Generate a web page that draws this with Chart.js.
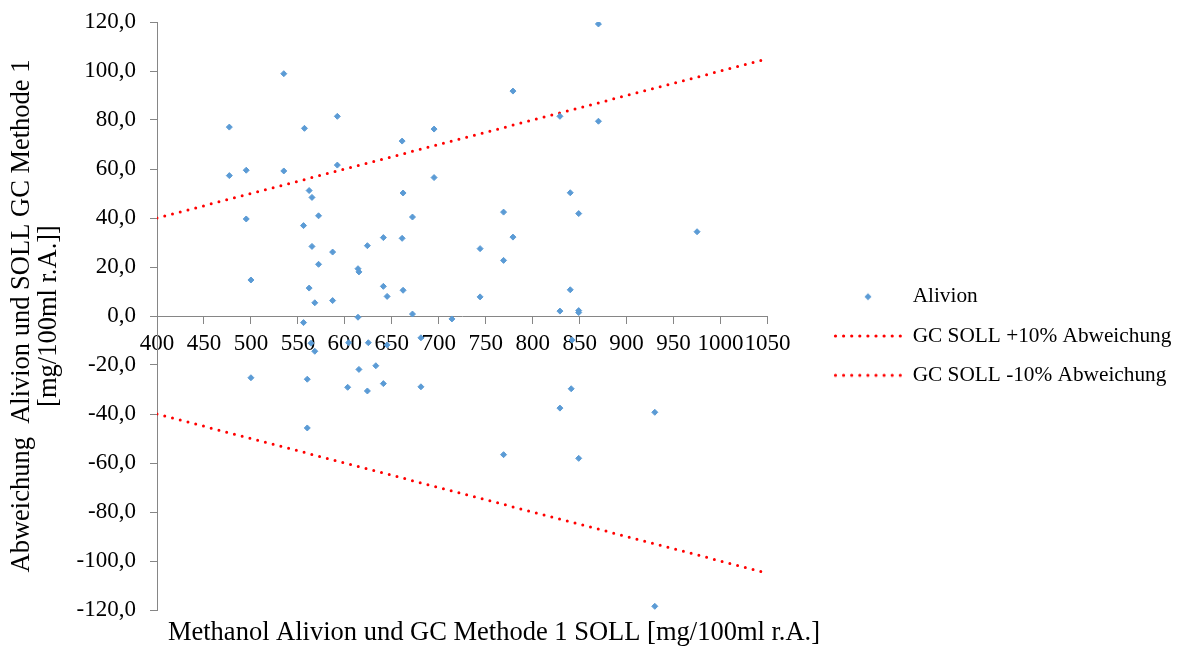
<!DOCTYPE html>
<html>
<head>
<meta charset="utf-8">
<script src="https://cdn.jsdelivr.net/npm/chart.js@4.4.1/dist/chart.umd.min.js"></script>
<style>
  html, body { margin: 0; background: #fff; }
</style>
</head>
<body>
<canvas id="chart" width="1180" height="650"></canvas>
<script>
// Alivion points: x = GC SOLL, y = Abweichung
const alivionX = [535, 477, 557, 592, 695, 661, 477, 495, 535, 592, 695, 562, 565, 662, 672, 572, 495, 556, 641, 661,
  565, 624, 587, 572, 614, 615, 500, 641, 562, 662, 645, 568, 587, 672, 614, 714, 556,
  870, 779, 829, 870, 840, 769, 849, 975, 779, 744, 769, 744, 840, 829, 849, 849,
  564, 568, 604, 625, 645, 681, 633, 615, 500, 560, 641, 603, 681, 624, 560,
  842, 841, 829, 930, 769, 849, 930];
const alivionY = [98.9, 77.1, 76.6, 81.5, 76.3, 71.4, 57.3, 59.5, 59.2, 61.6, 56.5, 51.2, 48.4, 50.2, 40.4, 40.9, 39.6, 36.9, 32.0, 31.7,
  28.4, 28.7, 26.1, 21.1, 19.3, 18.0, 14.7, 12.1, 11.4, 10.5, 8.0, 5.4, 6.3, 0.8, -0.5, -1.2, -2.7,
  119.2, 91.8, 81.5, 79.5, 50.3, 42.4, 41.8, 34.4, 32.2, 27.5, 22.7, 7.8, 10.7, 2.0, 2.2, 1.4,
  -11.1, -14.4, -10.9, -10.9, -11.8, -8.9, -20.3, -21.8, -25.2, -25.8, -27.6, -29.1, -28.9, -30.6, -45.7,
  -9.8, -29.7, -37.6, -39.3, -56.6, -58.1, -118.5];

// GC SOLL +/-10% lines, end points
const limitX = [400, 1050];
const upperY = [40, 105];
const lowerY = [-40, -105];

const xTicks = [400, 450, 500, 550, 600, 650, 700, 750, 800, 850, 900, 950, 1000, 1050];
const yTicks = [-120, -100, -80, -60, -40, -20, 0, 20, 40, 60, 80, 100, 120];

const blue = '#5B9BD5';
const red = '#FF0000';
const axisGrey = '#868686';

Chart.defaults.font.family = '"Liberation Serif", "Times New Roman", serif';
Chart.defaults.color = '#000';

// little legend swatches
function diamondSwatch() {
  const c = document.createElement('canvas');
  c.width = 10; c.height = 10;
  const g = c.getContext('2d');
  g.fillStyle = blue;
  g.beginPath();
  g.moveTo(5, 1.5); g.lineTo(8.5, 5); g.lineTo(5, 8.5); g.lineTo(1.5, 5);
  g.closePath();
  g.fill();
  return c;
}
function dottedSwatch() {
  const c = document.createElement('canvas');
  c.width = 70; c.height = 6;
  const g = c.getContext('2d');
  g.fillStyle = red;
  for (let i = 0; i < 9; i++) {
    g.beginPath();
    g.arc(2.5 + i * 8.1, 3, 1.6, 0, Math.PI * 2);
    g.fill();
  }
  return c;
}
const swatches = [diamondSwatch(), dottedSwatch(), dottedSwatch()];

const toPts = (xs, ys) => xs.map((x, i) => ({ x: x, y: ys[i] }));

// x axis title is not centred on the plot in the original, draw it by hand
const xTitle = {
  id: 'xTitle',
  afterDraw(chart) {
    const c = chart.ctx;
    c.save();
    c.font = '26.5px "Liberation Serif", serif';
    c.fillStyle = '#000';
    c.textAlign = 'center';
    c.textBaseline = 'middle';
    c.fillText('Methanol Alivion und GC Methode 1 SOLL [mg/100ml r.A.]', 494, 633);
    c.restore();
  }
};

new Chart(document.getElementById('chart'), {
  type: 'scatter',
  data: {
    datasets: [{
      label: 'Alivion',
      data: toPts(alivionX, alivionY),
      pointStyle: 'rectRot',
      pointRadius: 3,
      pointBorderWidth: 1,
      backgroundColor: blue,
      borderColor: blue
    }, {
      label: 'GC SOLL +10% Abweichung',
      data: toPts(limitX, upperY),
      showLine: true,
      pointRadius: 0,
      borderColor: red,
      backgroundColor: red,
      borderWidth: 3,
      borderDash: [0, 8],
      borderCapStyle: 'round'
    }, {
      label: 'GC SOLL -10% Abweichung',
      data: toPts(limitX, lowerY),
      showLine: true,
      pointRadius: 0,
      borderColor: red,
      backgroundColor: red,
      borderWidth: 3,
      borderDash: [0, 8],
      borderCapStyle: 'round'
    }]
  },
  options: {
    responsive: false,
    animation: false,
    layout: { padding: { top: 22, left: 0, right: 0, bottom: 0 } },
    plugins: {
      tooltip: { enabled: false },
      legend: {
        position: 'right',
        maxWidth: 364,
        labels: {
          usePointStyle: true,
          pointStyleWidth: 68,
          boxHeight: 10,
          padding: 18,
          font: { size: 21.3 },
          color: '#000',
          generateLabels(chart) {
            const items = Chart.defaults.plugins.legend.labels.generateLabels(chart);
            items.forEach((it, i) => { it.pointStyle = swatches[i]; });
            return items;
          }
        }
      }
    },
    scales: {
      x: {
        type: 'linear',
        min: 400,
        max: 1050,
        position: { y: 0 },
        z: 1,
        afterBuildTicks: s => { s.ticks = xTicks.map(v => ({ value: v })); },
        ticks: {
          autoSkip: false,
          maxRotation: 0,
          minRotation: 0,
          padding: 7,
          font: { size: 23 },
          color: '#000',
          callback: v => String(v)
        },
        grid: { drawOnChartArea: false, tickLength: 7, color: axisGrey },
        border: { color: axisGrey, width: 1 }
      },
      y: {
        type: 'linear',
        min: -120,
        max: 120,
        afterBuildTicks: s => { s.ticks = yTicks.map(v => ({ value: v })); },
        afterFit: s => { s.width = 157; s.paddingTop = 0; s.paddingBottom = 40; },
        ticks: {
          padding: 14,
          font: { size: 23 },
          color: '#000',
          callback: v => v.toFixed(1).replace('.', ',')
        },
        grid: { drawOnChartArea: false, tickLength: 7, color: axisGrey },
        border: { color: axisGrey, width: 1 },
        title: {
          display: true,
          text: ['Abweichung  Alivion und SOLL GC Methode 1', '[mg/100ml r.A.]]'],
          font: { size: 26.5, lineHeight: 1.0 },
          color: '#000',
          padding: { top: 9, bottom: 0 }
        }
      },
      // empty strip between plot and legend
      gap: {
        position: 'right',
        display: false,
        afterFit: s => { s.width = 48.5; }
      }
    }
  },
  plugins: [xTitle]
});
</script>
</body>
</html>
